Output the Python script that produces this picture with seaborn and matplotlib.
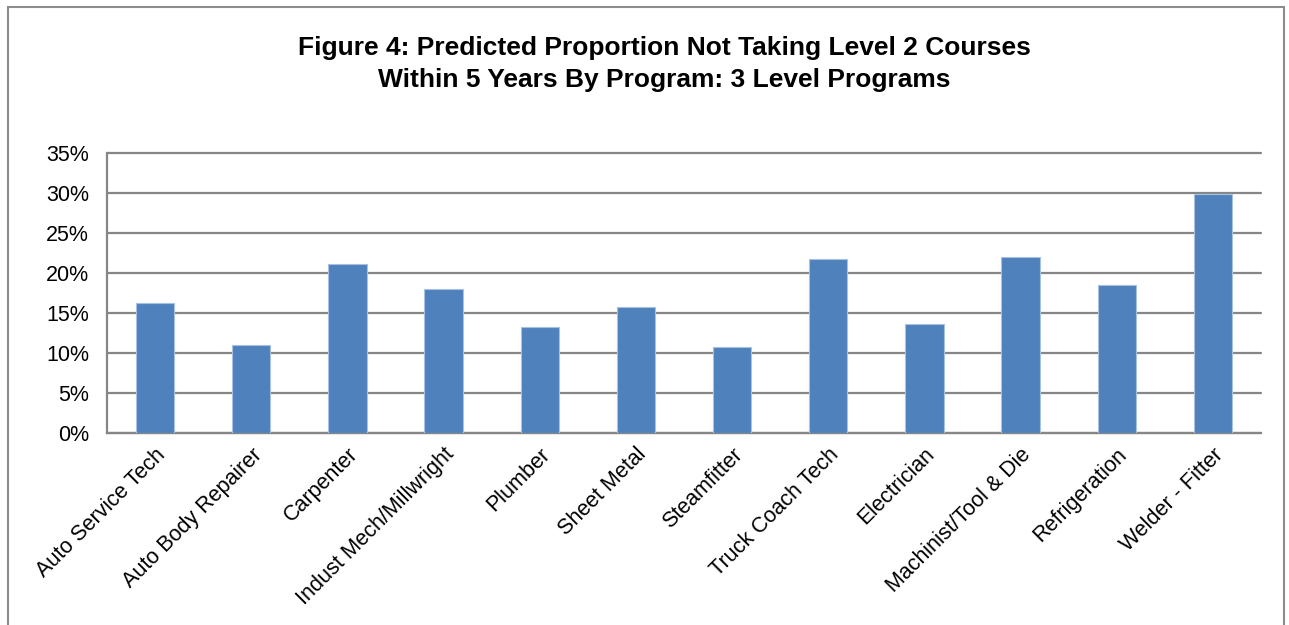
import matplotlib
matplotlib.use("Agg")
import matplotlib.pyplot as plt
from matplotlib.patches import Rectangle
from matplotlib.ticker import PercentFormatter
import seaborn as sns
import pandas as pd

programs = [
    "Auto Service Tech", "Auto Body Repairer", "Carpenter", "Indust Mech/Millwright",
    "Plumber", "Sheet Metal", "Steamfitter", "Truck Coach Tech", "Electrician",
    "Machinist/Tool & Die", "Refrigeration", "Welder - Fitter",
]
proportion_not_taking = [
    0.163, 0.110, 0.211, 0.180, 0.132, 0.157,
    0.108, 0.218, 0.136, 0.220, 0.185, 0.299,
]
y_ticks = [0.00, 0.05, 0.10, 0.15, 0.20, 0.25, 0.30, 0.35]

df = pd.DataFrame({"Program": programs, "Proportion": proportion_not_taking})

sns.set_theme(style="white")
plt.rcParams["font.family"] = ["Liberation Sans", "DejaVu Sans"]
plt.rcParams["text.color"] = "black"

W, H = 1289, 625
fig = plt.figure(figsize=(W / 100, H / 100), dpi=100)
fig.patch.set_facecolor("white")

# outer chart frame (runs off the bottom edge)
fig.patches.append(Rectangle((8 / W, -0.1), (1284 - 8) / W, 1.1 - 7 / H,
                             transform=fig.transFigure, fill=False,
                             edgecolor="#8c8c8c", linewidth=1.5))

left, right, top, bottom = 107, 1261, 153, 433
ax = fig.add_axes([left / W, 1 - bottom / H, (right - left) / W, (bottom - top) / H])

sns.barplot(data=df, x="Program", y="Proportion", color="#4F81BD", saturation=1,
            width=0.4, edgecolor="#a9c1e0", linewidth=0.8, ax=ax, zorder=3)

ax.set_ylim(0, 0.35)
ax.set_yticks(y_ticks)
ax.yaxis.set_major_formatter(PercentFormatter(xmax=1, decimals=0))
ax.grid(axis="y", color="#868686", linewidth=1.6, zorder=0)
for gl in ax.get_ygridlines():
    gl.set_clip_on(False)
ax.set_axisbelow(True)
ax.set_xlabel("")
ax.set_ylabel("")
for side in ["top", "right"]:
    ax.spines[side].set_visible(False)
for side in ["left", "bottom"]:
    ax.spines[side].set_color("#868686")
    ax.spines[side].set_linewidth(1.6)
ax.tick_params(axis="both", length=0, labelsize=15.5, colors="black")
ax.tick_params(axis="y", pad=13)
ax.tick_params(axis="x", pad=8)
plt.setp(ax.get_xticklabels(), rotation=45, ha="right", rotation_mode="anchor")

fig.text(664 / W, 1 - 64 / H,
         "Figure 4: Predicted Proportion Not Taking Level 2 Courses\nWithin 5 Years By Program: 3 Level Programs",
         ha="center", va="center", fontsize=19, fontweight="bold", linespacing=1.4,
         color="black")

fig.savefig("out.png", dpi=100)
